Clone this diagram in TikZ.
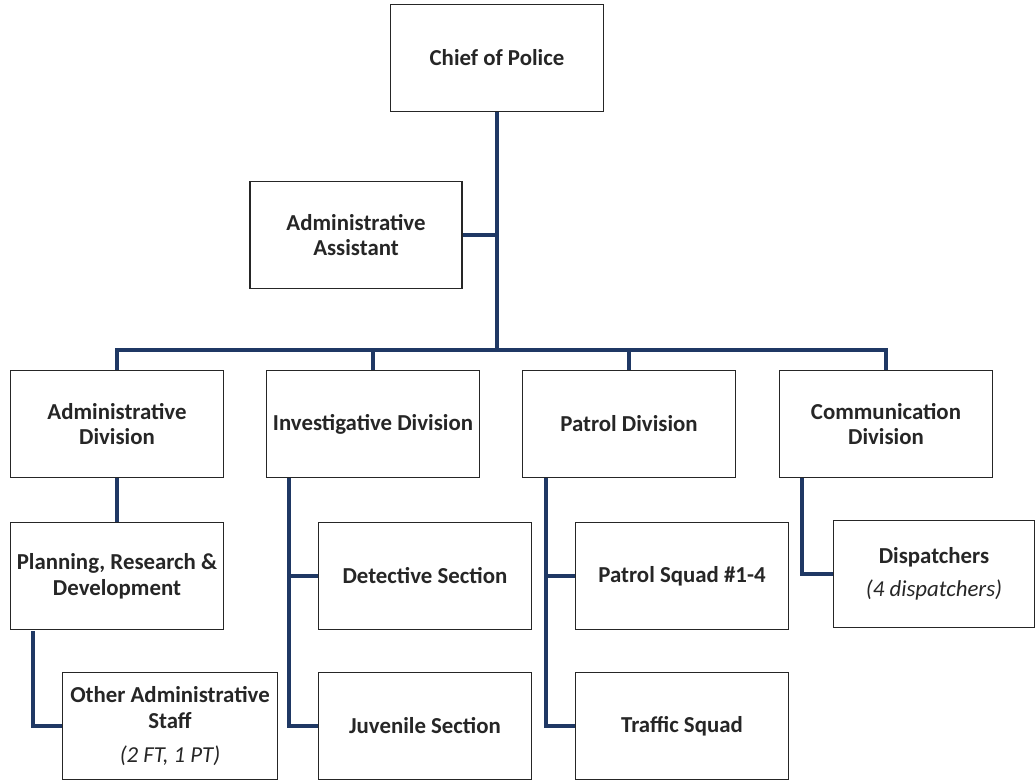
\documentclass[tikz,border=0pt]{standalone}
\usepackage{fontspec}
\setmainfont{Carlito}
\usetikzlibrary{positioning}
\definecolor{navy}{RGB}{31,56,100}

\begin{document}
\begin{tikzpicture}[x=0.02cm,y=-0.02cm]
    \tikzset{box/.style={draw=black!85,line width=0.9pt,fill=white,align=center,
        minimum width=4.26cm,minimum height=2.14cm,inner sep=2pt,
        font=\fontsize{13}{14.6}\selectfont\bfseries,text=black!85}}
    \tikzset{link/.style={draw=navy,line width=1.9pt}}
    \useasboundingbox (0,0) rectangle (1036,784);
  %\draw[step=50,gray,very thin] (0,0) grid (1036,784);

\node[box] (chief) at (497,58) {Chief of Police};
\node[box,minimum width=4.24cm] (asst) at (356,235) {Administrative\\Assistant};

\node[box] (adm) at (117,424) {Administrative\\Division};
\node[box] (inv) at (373,424) {Investigative Division};
\node[box] (pat) at (629,424) {Patrol Division};
\node[box] (com) at (886,424) {Communication\\Division};

\node[box] (plan) at (117,576) {Planning, Research \&\\Development};
\node[box] (det) at (425,576) {Detective Section};
\node[box] (psq) at (682,576) {Patrol Squad \#1-4};
\node[box,minimum width=4.02cm] (disp) at (934,574) {Dispatchers\\[4pt]{\mdseries\itshape (4 dispatchers)}};

\node[box,minimum width=4.3cm] (other) at (170,726) {Other Administrative\\Staff\\[5pt]{\mdseries\itshape (2 FT, 1 PT)}};
\node[box] (juv) at (425,726) {Juvenile Section};
\node[box] (traf) at (682,726) {Traffic Squad};

\coordinate (bus) at (497,350);
\coordinate (pl) at (33,631);
\coordinate (ib) at (289,478);
\coordinate (pb) at (546,478);
\coordinate (cb) at (802,478);

\draw[link] (chief) -- (bus);
\draw[link] (asst.east) -- (asst.east -| bus);
\draw[link] (adm.north) |- (bus) -| (com.north);
\draw[link] (inv.north) -- (inv.north |- bus);
\draw[link] (pat.north) -- (pat.north |- bus);

\draw[link] (adm) -- (plan);
\draw[link] (pl) |- (other.west);

\draw[link] (ib) |- (juv.west);
\draw[link] (det.west) -- (det.west -| ib);

\draw[link] (pb) |- (traf.west);
\draw[link] (psq.west) -- (psq.west -| pb);

\draw[link] (cb) |- (disp.west);

\end{tikzpicture}
\end{document}
